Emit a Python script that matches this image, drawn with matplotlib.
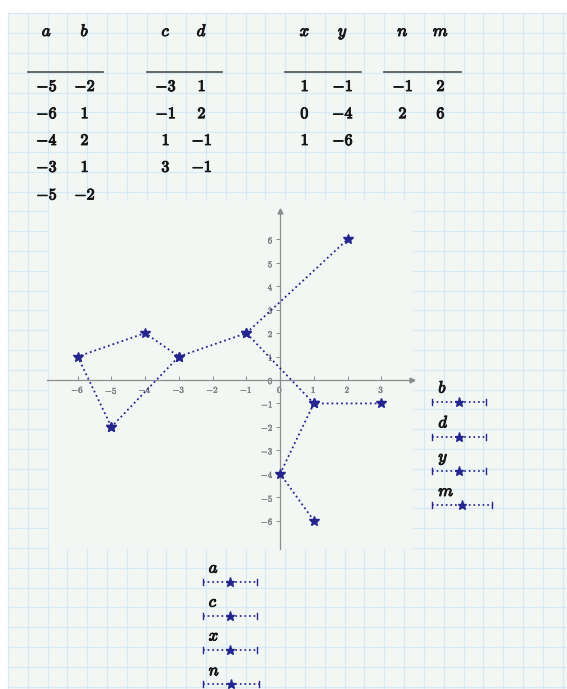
import numpy as np
import matplotlib
matplotlib.use("Agg")
import matplotlib.pyplot as plt
from matplotlib.patches import Rectangle
import matplotlib.patheffects as pe

plt.rcParams['mathtext.fontset'] = 'cm'

# ---- data (read from the worksheet) ----
a = [-5, -6, -4, -3, -5]
b = [-2, 1, 2, 1, -2]
c = [-3, -1, 1, 3]
d = [1, 2, -1, -1]
x = [1, 0, 1]
y = [-1, -4, -6]
n = [-1, 2]
m = [2, 6]

x_ticks = [-6, -5, -4, -3, -2, -1, 0, 1, 2, 3]
y_ticks = [-6, -5, -4, -3, -2, -1, 0, 1, 2, 3, 4, 5, 6]

tables = [("a", "b", a, b), ("c", "d", c, d), ("x", "y", x, y), ("n", "m", n, m)]
pairs = [(a, b), (c, d), (x, y), (n, m)]

# ---- style ----
W, H = 567, 689
BG = '#f3f7f4'
GRID = '#d8e9f6'
SER = '#25258f'
TXT = '#161616'
TICK = '#7c7c7c'
BOLD = [pe.withStroke(linewidth=0.7, foreground=TXT)]
BOLD_T = [pe.withStroke(linewidth=0.25, foreground=TICK)]

fig = plt.figure(figsize=(W / 100, H / 100), dpi=100)
fig.patch.set_facecolor('white')

bg = fig.add_axes([0, 0, 1, 1], zorder=0)
bg.set_xlim(0, W)
bg.set_ylim(H, 0)
bg.axis('off')

# page + grid
bg.add_patch(Rectangle((8, 13), W - 8, H - 13, facecolor=BG, edgecolor='none', zorder=0))
for gx in np.arange(7.9, W, 19.81):
    bg.plot([gx, gx], [13, H], color=GRID, lw=0.9, zorder=1)
for gy in np.arange(13.3, H, 19.8):
    bg.plot([8, W], [gy, gy], color=GRID, lw=0.9, zorder=1)
# plot region hides the grid
bg.add_patch(Rectangle((48.5, 201), 364.5, 348, facecolor=BG, edgecolor='none', zorder=2))

# tables
col_x = [(47, 85), (166, 202), (305, 343), (403, 441)]
line_x = [(28, 103), (147, 222), (285, 361), (384, 461)]
row_base = [91, 118.2, 145, 171.8, 199.5]
for (h1, h2, v1, v2), (cx1, cx2), (lx0, lx1) in zip(tables, col_x, line_x):
    for hx, hl in ((cx1, h1), (cx2, h2)):
        bg.text(hx, 36, f'${hl}$', ha='center', va='baseline', fontsize=12, color=TXT,
                zorder=5, path_effects=BOLD)
    bg.plot([lx0, lx1], [72, 72], color='#4d4d4d', lw=1.2, zorder=5)
    for i, (p, q) in enumerate(zip(v1, v2)):
        for vx, vv in ((cx1, p), (cx2, q)):
            bg.text(vx, row_base[i], r'$\mathbf{%s}$' % (str(vv)), ha='center', va='baseline',
                    fontsize=11.5, color=TXT, zorder=5, path_effects=BOLD)


def legend_item(x0, x1, ly, label):
    bg.plot([x0, x1], [ly, ly], color=SER, lw=1.25, linestyle=':', zorder=5)
    for ex in (x0, x1):
        bg.plot([ex, ex], [ly - 3, ly + 3], color=SER, lw=1.0, zorder=5)
    bg.plot([(x0 + x1) / 2], [ly], marker='*', markersize=6.5, color=SER, zorder=6)
    bg.text(x0 + 6, ly - 9, f'${label}$', ha='left', va='baseline', fontsize=12, color=TXT,
            zorder=6, path_effects=BOLD)


# right legend (y series), bottom legend (x series)
right_lines = [401.7, 436.5, 470.5, 505]
right_ends = [485.7, 485.7, 485.7, 491.7]
bottom_lines = [581.7, 615.7, 649.5, 684.3]
bottom_ends = [257.3, 256.5, 257.3, 258.7]
for (h1, h2, _, _), ry, rx1, by, bx1 in zip(tables, right_lines, right_ends, bottom_lines, bottom_ends):
    legend_item(432.3, rx1, ry, h2)
    legend_item(202.7, bx1, by, h1)

# ---- plot axes ----
xlo, xhi = -6.9, 3.9
ylo, yhi = -7.2, 7.2
left_px, right_px = 47.3, 411.7
top_px, bot_px = 211.2, 548.8
ax = fig.add_axes([left_px / W, (H - bot_px) / H, (right_px - left_px) / W, (bot_px - top_px) / H], zorder=3)
ax.set_facecolor('none')
ax.set_xlim(xlo, xhi)
ax.set_ylim(ylo, yhi)
for s in ('top', 'right'):
    ax.spines[s].set_visible(False)
for s in ('left', 'bottom'):
    ax.spines[s].set_position(('data', 0))
    ax.spines[s].set_color('#8c8c8c')
    ax.spines[s].set_linewidth(0.9)
ax.plot(1, 0, '>', color='#8c8c8c', markersize=3.5, transform=ax.get_yaxis_transform(), clip_on=False)
ax.plot(0, 1, '^', color='#8c8c8c', markersize=3.5, transform=ax.get_xaxis_transform(), clip_on=False)

ax.set_xticks(x_ticks, labels=[f'${v}$' for v in x_ticks])
ax.set_yticks(y_ticks, labels=[f'${v}$' for v in y_ticks])
ax.tick_params(axis='x', direction='in', length=3, width=0.7, color='#8c8c8c',
               labelsize=6.5, labelcolor=TICK, pad=3.5)
ax.tick_params(axis='y', direction='out', length=3, width=0.7, color='#8c8c8c',
               labelsize=6.5, labelcolor=TICK, pad=1.5)
for lab in ax.get_xticklabels() + ax.get_yticklabels():
    lab.set_path_effects(BOLD_T)

for px, py in pairs:
    ax.plot(px, py, linestyle=':', lw=1.3, color=SER, marker='*', markersize=7.5,
            markerfacecolor=SER, markeredgecolor=SER, clip_on=False, zorder=4)

fig.savefig('out.png', dpi=100, facecolor='white')
